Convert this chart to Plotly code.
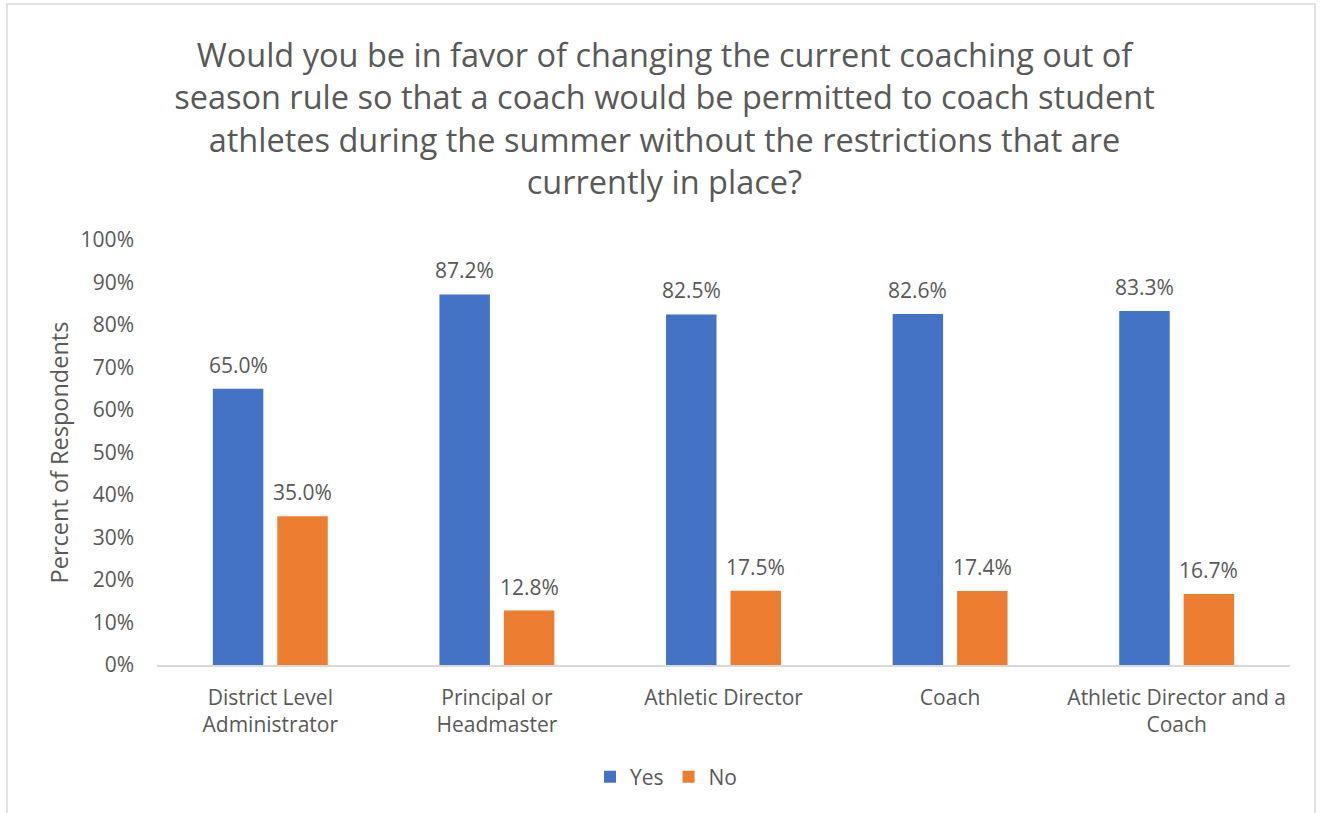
import plotly.graph_objects as go

categories = ["District Level<br>Administrator", "Principal or<br>Headmaster", "Athletic Director",
              "Coach", "Athletic Director and a<br>Coach"]
yes_values = [65.0, 87.2, 82.5, 82.6, 83.3]
no_values = [35.0, 12.8, 17.5, 17.4, 16.7]
series_names = ["Yes", "No"]
y_ticks = list(range(0, 101, 10))
y_ticktext = [f"{v}%" for v in y_ticks]

FONT = "'Open Sans', sans-serif"
TXT = "#595959"
BLUE = "#4472C4"
ORANGE = "#ED7D31"
FS = 21

W, H = 1321, 813
ML, MR, MT, MB = 157, 31, 240, 148
PW, PH = W - ML - MR, H - MT - MB

fig = go.Figure()
fig.add_trace(go.Bar(x=categories, y=yes_values, name=series_names[0], marker_color=BLUE,
                     marker_line_width=0))
fig.add_trace(go.Bar(x=categories, y=no_values, name=series_names[1], marker_color=ORANGE,
                     marker_line_width=0))

bargap = 0.431
bargroupgap = 0.217
slot = (1 - bargap) / 2
annotations = []
for i, (yv, nv) in enumerate(zip(yes_values, no_values)):
    for off, v in ((-slot / 2, yv), (slot / 2, nv)):
        annotations.append(dict(x=i + off, y=v, xref="x", yref="y", text=f"{v:.1f}%",
                                showarrow=False, yanchor="middle", yshift=24,
                                font=dict(family=FONT, size=FS, color=TXT)))

def px_to_paper_x(px):
    return (px - ML) / PW

def px_to_paper_y(py):
    return (H - MB - py) / PH

fig.update_layout(
    width=W, height=H,
    margin=dict(l=ML, r=MR, t=MT, b=MB, autoexpand=False),
    paper_bgcolor="white", plot_bgcolor="white",
    barmode="group", bargap=bargap, bargroupgap=bargroupgap,
    font=dict(family=FONT, size=FS, color=TXT),
    title=dict(
        text="Would you be in favor of changing the current coaching out of<br>"
             "season rule so that a coach would be permitted to coach student<br>"
             "athletes during the summer without the restrictions that are<br>"
             "currently in place?",
        x=0.503, xanchor="center", xref="container",
        y=1 - 67 / H, yanchor="middle", yref="container",
        font=dict(family=FONT, size=32.5, color=TXT),
    ),
    xaxis=dict(
        type="category", showgrid=False, showline=True, linecolor="#D9D9D9", linewidth=1.5,
        ticks="", ticklabelstandoff=13, tickangle=0,
        tickfont=dict(family=FONT, size=FS, color=TXT),
    ),
    yaxis=dict(
        range=[0, 100], tickmode="array", tickvals=y_ticks, ticktext=y_ticktext,
        showgrid=False, showline=False, zeroline=False, ticks="", ticklabelstandoff=22,
        tickfont=dict(family=FONT, size=FS, color=TXT),
        title=dict(text="Percent of Respondents", standoff=5,
                   font=dict(family=FONT, size=23.5, color=TXT)),
    ),
    legend=dict(orientation="h", x=px_to_paper_x(666), xanchor="center",
                y=px_to_paper_y(777), yanchor="middle",
                font=dict(family=FONT, size=FS, color=TXT), itemwidth=30,
                traceorder="normal"),
    annotations=annotations,
    shapes=[dict(type="rect", xref="paper", yref="paper",
                 x0=px_to_paper_x(7), x1=px_to_paper_x(1315),
                 y0=px_to_paper_y(830), y1=px_to_paper_y(4),
                 line=dict(color="#D9D9D9", width=1.5), fillcolor="rgba(0,0,0,0)", layer="below")],
)

fig.write_html("out.html", config={"displayModeBar": False},
               post_script="document.body.style.margin='0';")
